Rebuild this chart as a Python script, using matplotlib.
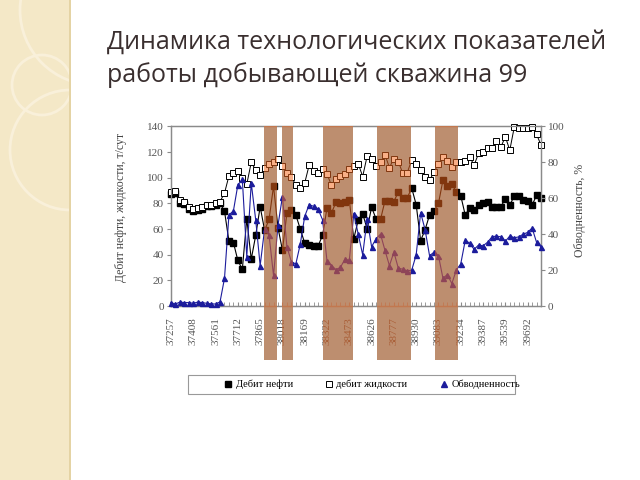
import matplotlib
matplotlib.use('Agg')
import matplotlib.pyplot as plt
from matplotlib.patches import Rectangle, Circle
from matplotlib.lines import Line2D
from matplotlib.transforms import IdentityTransform
import numpy as np

plt.rcParams['font.family'] = ['Liberation Serif', 'DejaVu Serif']

# Дебит нефти, т/сут (по месяцам)
oil = [87, 88, 80.5, 79.5, 75.5, 74, 75, 75.5, 78, 78, 79, 80,
       74, 50.5, 49.5, 35.5, 28.5, 68, 36.5, 55, 77.5,
       59, 67.5, 93.5, 61, 43.5, 72.5, 75, 71, 60, 49,
       47.5, 47, 47, 55, 76.5, 72.5, 81, 80.5, 81, 82.5,
       52.5, 67, 72, 60, 77, 68, 67.5, 82, 82, 81.5,
       89, 84, 84.5, 92, 79, 51, 59.5, 71, 74, 80,
       98, 93.5, 95, 89, 86, 71, 76.5, 75, 79, 80,
       81, 77.5, 77.5, 77.5, 83.5, 78.5, 86, 85.5, 83, 82,
       78.5, 86.5, 84]

# Дебит жидкости, т/сут
liquid = [89, 90, 82.5, 81, 77, 75.5, 76.5, 77, 79, 79, 80.5, 81.5,
          88, 101.5, 104, 105, 100, 95, 112, 106, 102,
          107.5, 111, 112.5, 115, 109, 104, 101, 94, 92, 96,
          110, 105, 103.5, 106.5, 103, 94, 99, 101.5, 103, 107,
          109, 111, 101, 117, 115, 109, 112, 118, 108, 115,
          112.5, 103.5, 104, 114, 110.5, 106, 101, 98, 104.5, 111,
          116, 113, 108.5, 112, 112, 113, 116, 110, 119, 120,
          123, 123.5, 128.5, 124, 132, 121.5, 139.5, 139, 138.5, 139,
          139.5, 134, 125.5]

# Обводненность, %
water = [1.9, 1.1, 2.2, 1.9, 1.9, 1.5, 2.2, 1.9, 1.5, 1.2, 1.1, 2.3,
         15.4, 50.7, 53, 67.5, 70.5, 27.5, 68.5, 48, 22.5,
         43, 39.5, 17, 45, 61, 33, 24.7, 23.4, 34.5, 50,
         56.5, 55.5, 54, 48, 25, 22.5, 20.3, 21.5, 26, 25.5,
         51.5, 40, 28.5, 48.5, 33, 37.5, 40, 31, 22.5, 30,
         21, 20.5, 19.5, 20, 28.5, 52, 42.5, 28, 30, 28,
         15.5, 17.5, 12.5, 20, 23.5, 36.5, 35, 31.5, 34, 33.5,
         35.5, 38.5, 39, 38.5, 36, 39, 38, 38.5, 40, 41,
         43.5, 35.5, 33]

tick_labels = ['37257', '37408', '37561', '37712', '37865', '38018', '38169',
               '38322', '38473', '38626', '38777', '38930', '39083', '39234',
               '39387', '39539', '39692']

# выделенные периоды (в номерах месяцев)
period_start = [20.9, 25.0, 34.0, 46.1, 59.2]
period_end = [23.8, 27.4, 40.9, 53.8, 64.3]

x = np.arange(len(oil))

fig = plt.figure(figsize=(6.4, 4.8), dpi=100, facecolor='white')

# декоративная полоса слева
fig.patches.append(Rectangle((0, 0), 70, 480, transform=IdentityTransform(),
                             facecolor='#f4e8c7', edgecolor='none', zorder=0))
fig.patches.append(Rectangle((69, 0), 1.5, 480, transform=IdentityTransform(),
                             facecolor='#e4d3a4', edgecolor='none', zorder=1))
strip = Rectangle((0, 0), 69, 480, transform=IdentityTransform())
for cx, cy, r in [(95, 470, 75), (42, 395, 30), (70, 330, 60)]:
    c = Circle((cx, cy), r, transform=IdentityTransform(), facecolor='none',
               edgecolor='#f9f0da', lw=2, zorder=1)
    c.set_clip_path(strip)
    fig.patches.append(c)

fig.text(107 / 640, 1 - 42 / 480, 'Динамика технологических показателей',
         family=['Open Sans', 'DejaVu Sans'], fontsize=18, color='#3a2f2f',
         va='center', ha='left')
fig.text(107 / 640, 1 - 75 / 480, 'работы добывающей скважина 99',
         family=['Open Sans', 'DejaVu Sans'], fontsize=18, color='#3a2f2f',
         va='center', ha='left')

ax = fig.add_axes([171 / 640, 1 - 306 / 480, 370 / 640, 179.5 / 480])
ax2 = ax.twinx()

ax.plot(x, oil, '-s', color='black', lw=0.8, ms=4.3, mfc='black', mec='black',
        clip_on=False, zorder=3)
ax.plot(x, liquid, '-s', color='black', lw=0.7, ms=4.3, mfc='white', mec='black',
        mew=0.7, clip_on=False, zorder=4)
ax2.plot(x, water, '-^', color='#1c1c9c', lw=0.8, ms=3.6, clip_on=False, zorder=3)

ax.set_xlim(0, 83)
ax.set_ylim(0, 140)
ax2.set_ylim(0, 100)
ax.set_yticks(range(0, 141, 20))
ax2.set_yticks(range(0, 101, 20))
ax.set_xticks(x[::5])
ax.set_xticklabels(tick_labels, rotation=90)
ax.set_xticks(x, minor=True)

gray = '#8a8a8a'
for a in (ax, ax2):
    for s in a.spines.values():
        s.set_color(gray)
        s.set_linewidth(0.9)
ax.tick_params(axis='x', which='both', direction='in', length=3, color=gray,
               labelsize=8, labelcolor='#555555', pad=8)
ax.tick_params(axis='y', direction='out', length=3, color=gray, labelsize=8,
               labelcolor='#555555', pad=2)
ax2.tick_params(axis='y', direction='out', length=3, color=gray, labelsize=8,
                labelcolor='#555555', pad=2)

ax.set_ylabel('Дебит нефти, жидкости, т/сут', fontsize=8.5, color='#444444')
ax.yaxis.set_label_coords(-0.119, 0.55)
ax2.set_ylabel('Обводненность, %', fontsize=8.5, color='#444444', rotation=90)
ax2.yaxis.set_label_coords(1.09, 0.53)

# полосы выделенных периодов
for s, e in zip(period_start, period_end):
    ax.add_patch(Rectangle((s, -0.3), e - s, 1.3, transform=ax.get_xaxis_transform(),
                           facecolor='#80b9ce', edgecolor='none', zorder=0.2,
                           clip_on=False))
    ax2.add_patch(Rectangle((s, -0.3), e - s, 1.3, transform=ax2.get_xaxis_transform(),
                            facecolor='#f5681c', edgecolor='none', alpha=0.53,
                            zorder=10, clip_on=False))

# легенда
fig.patches.append(Rectangle((188, 480 - 394), 327, 19, transform=IdentityTransform(),
                             facecolor='white', edgecolor='#999999', lw=0.8, zorder=2))
handles = [Line2D([], [], ls='none', marker='s', ms=4.5, mfc='black', mec='black'),
           Line2D([], [], ls='none', marker='s', ms=4.5, mfc='white', mec='black', mew=0.7),
           Line2D([], [], ls='none', marker='^', ms=4.5, color='#1c1c9c')]
leg = fig.legend(handles, ['Дебит нефти', 'дебит жидкости', 'Обводненность'],
                 loc='center left', bbox_to_anchor=(223 / 640, 1 - 384.5 / 480),
                 ncol=3, frameon=False, fontsize=7.5, handlelength=1.0,
                 handletextpad=0.2, columnspacing=3.0, borderpad=0, borderaxespad=0)
leg.set_zorder(3)

fig.savefig('out.png', dpi=100)
